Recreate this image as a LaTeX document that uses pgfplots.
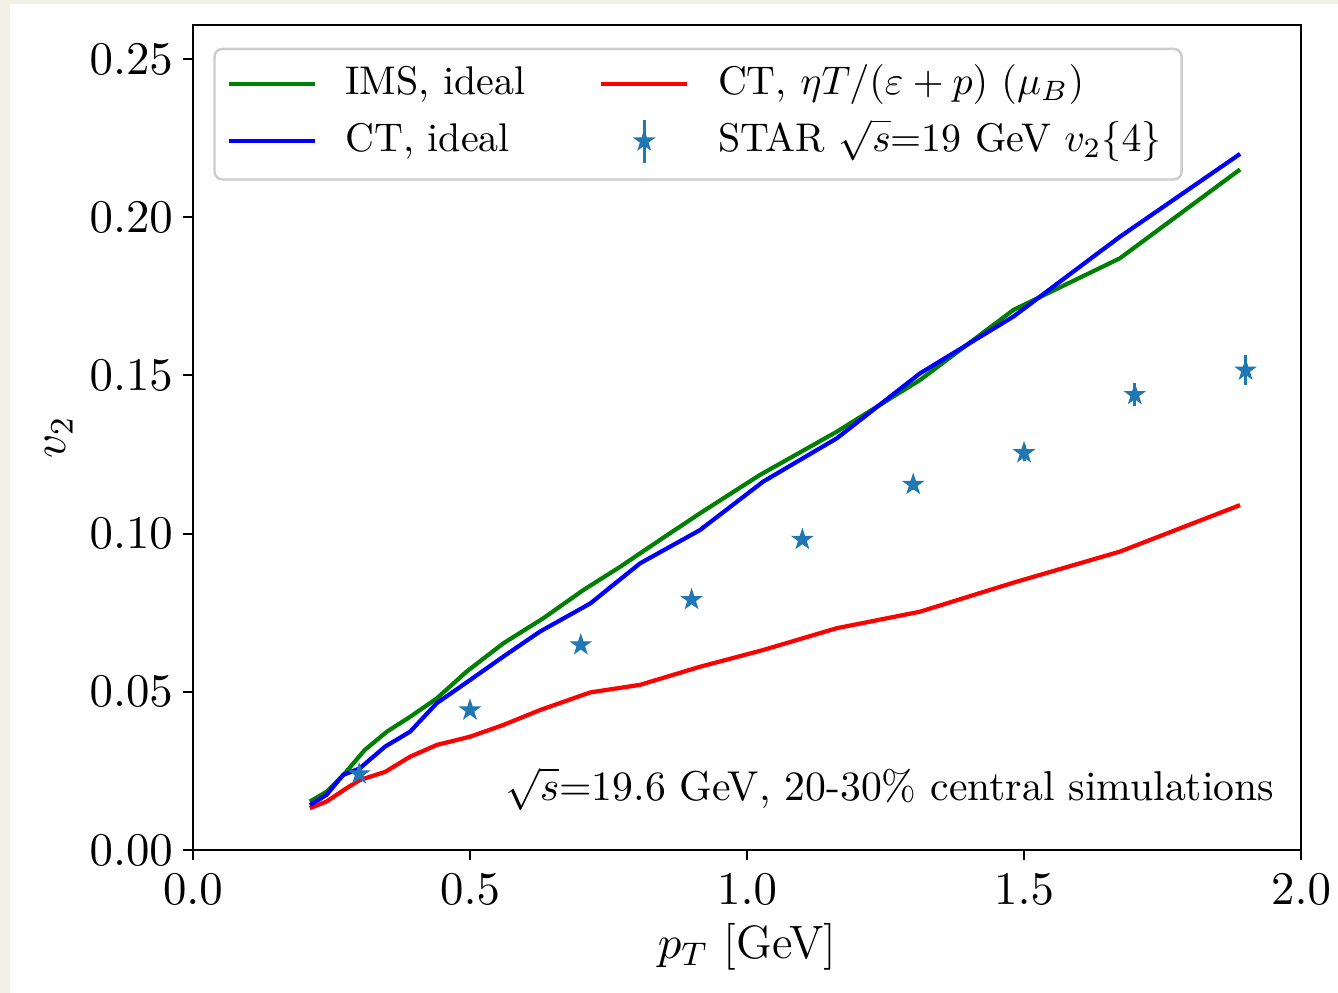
\RequirePackage{fix-cm}
\documentclass[border=0pt]{standalone}
\usepackage{pgfplots}
\usepackage{pgfplotstable}
\pgfplotsset{compat=1.18}
\definecolor{cream}{RGB}{241,241,231}
\definecolor{mplgreen}{RGB}{0,128,0}
\definecolor{starblue}{RGB}{31,119,180}

\pgfdeclareplotmark{fstar}{%
  \pgfpathmoveto{\pgfpointpolar{90}{\pgfplotmarksize}}%
  \pgfpathlineto{\pgfpointpolar{126}{0.382*\pgfplotmarksize}}%
  \pgfpathlineto{\pgfpointpolar{162}{\pgfplotmarksize}}%
  \pgfpathlineto{\pgfpointpolar{198}{0.382*\pgfplotmarksize}}%
  \pgfpathlineto{\pgfpointpolar{234}{\pgfplotmarksize}}%
  \pgfpathlineto{\pgfpointpolar{270}{0.382*\pgfplotmarksize}}%
  \pgfpathlineto{\pgfpointpolar{306}{\pgfplotmarksize}}%
  \pgfpathlineto{\pgfpointpolar{342}{0.382*\pgfplotmarksize}}%
  \pgfpathlineto{\pgfpointpolar{18}{\pgfplotmarksize}}%
  \pgfpathlineto{\pgfpointpolar{54}{0.382*\pgfplotmarksize}}%
  \pgfpathclose
  \pgfusepathqfillstroke
}

\pgfplotsset{
  starlegend/.style={legend image code/.code={%
    \draw[line width=0.75pt, starblue] (10.75pt,-5.4pt) -- (10.75pt,5.4pt);
    \draw[mark repeat=2, mark phase=2, #1] plot coordinates {(0pt,0pt) (10.75pt,0pt) (21.5pt,0pt)};}},
  linelegend/.style={legend image code/.code={\draw[#1] (0pt,0pt) -- (21.5pt,0pt);}},
}

\pgfplotstableread{
x y
0.211 0.0153
0.241 0.0184
0.274 0.0242
0.310 0.0316
0.350 0.0374
0.392 0.0421
0.440 0.0479
0.494 0.0564
0.560 0.0653
0.632 0.0732
0.705 0.0822
0.771 0.0895
0.843 0.0980
0.915 0.1064
1.023 0.1185
1.162 0.1322
1.312 0.1485
1.481 0.1707
1.673 0.1870
1.890 0.2151
}\imsideal

\pgfplotstableread{
x y
0.211 0.0142
0.241 0.0174
0.271 0.0237
0.301 0.0258
0.347 0.0327
0.392 0.0374
0.440 0.0464
0.500 0.0537
0.560 0.0611
0.626 0.0690
0.717 0.0779
0.807 0.0906
0.915 0.1011
1.029 0.1164
1.162 0.1301
1.312 0.1506
1.481 0.1686
1.673 0.1938
1.890 0.2200
}\ctideal

\pgfplotstableread{
x y
0.211 0.0132
0.241 0.0153
0.277 0.0195
0.301 0.0221
0.347 0.0247
0.392 0.0295
0.440 0.0332
0.500 0.0358
0.560 0.0395
0.626 0.0442
0.717 0.0498
0.807 0.0522
0.915 0.0579
1.029 0.0632
1.162 0.0701
1.312 0.0753
1.481 0.0845
1.673 0.0943
1.890 0.1090
}\ctvisc

\pgfplotstableread{
x y e
0.3 0.0240 0.0008
0.5 0.0442 0.0008
0.7 0.0648 0.0010
0.9 0.0791 0.0012
1.1 0.0981 0.0014
1.3 0.1155 0.0018
1.5 0.1255 0.0024
1.7 0.1439 0.0036
1.9 0.1516 0.0047
}\stardata

\begin{document}
\begin{tikzpicture}
\fill[cream] (-48.25pt,-35.75pt) rectangle (286.25pt,212.5pt);
\fill[white] (-45.75pt,-35.75pt) rectangle (286.25pt,211.5pt);
\begin{axis}[
  at={(0pt,0pt)}, anchor=south west,
  scale only axis, width=277pt, height=206.25pt,
  xmin=0, xmax=2, ymin=0, ymax=0.26075,
  xtick={0,0.5,1,1.5,2},
  ytick={0,0.05,0.1,0.15,0.2,0.25},
  scaled y ticks=false, scaled x ticks=false,
  x tick label style={/pgf/number format/fixed, /pgf/number format/fixed zerofill, /pgf/number format/precision=1},
  y tick label style={/pgf/number format/fixed, /pgf/number format/fixed zerofill, /pgf/number format/precision=2, xshift=1pt},
  tick label style={font=\fontsize{11.7}{14}\selectfont},
  tick align=outside, tick pos=left, major tick length=2.5pt,
  every tick/.style={black, line width=0.5pt},
  axis line style={line width=0.6pt},
  xlabel={$p_T$ [GeV]}, ylabel={$v_2$},
  label style={font=\fontsize{11.7}{14}\selectfont},
  xlabel style={at={(axis description cs:0.5,-0.131)}, anchor=base},
  ylabel style={at={(axis description cs:-0.121,0.5)}, anchor=center},
  legend columns=2,
  legend cell align=left,
  legend style={at={(axis description cs:0.0183,0.9725)}, anchor=north west,
    draw=black!20, line width=0.6pt, rounded corners=2pt, fill=white,
    font=\fontsize{10}{12}\selectfont,
    inner xsep=3pt, inner ysep=3.8pt, row sep=3.5pt,
    nodes={text height=0.75em, text depth=0.25em, inner ysep=0pt},
    /tikz/every odd column/.style={column sep=5.2pt},
    /tikz/every even column/.style={column sep=16.4pt}},
  linelegend,
]
\addplot[mplgreen, line width=1.05pt] table[x=x,y=y] {\imsideal};
\addlegendentry{IMS, ideal}
\addplot[red, line width=1.05pt] table[x=x,y=y] {\ctvisc};
\addlegendentry{CT, $\eta T/(\varepsilon+p)$ $(\mu_B)$}
\addplot[blue, line width=1.05pt] table[x=x,y=y] {\ctideal};
\addlegendentry{CT, ideal}
\addplot[only marks, mark=fstar, mark size=2.5pt, color=starblue,
  mark options={fill=starblue, draw=starblue, line width=0.3pt},
  starlegend,
  error bars/.cd, y dir=both, y explicit, error mark=none,
  error bar style={line width=0.75pt, starblue}]
  table[x=x, y=y, y error=e] {\stardata};
\addlegendentry{STAR $\sqrt{s}$=19 GeV $v_2\{4\}$}
\node[anchor=base east, inner sep=0pt, font=\fontsize{10.43}{13}\selectfont] at (rel axis cs:0.9765,0.0594) {$\sqrt{s}$=19.6 GeV, 20-30\% central simulations};
\end{axis}
\pgfresetboundingbox
\useasboundingbox (-48.25pt,-35.75pt) rectangle (286.25pt,212.5pt);
\end{tikzpicture}
\end{document}
